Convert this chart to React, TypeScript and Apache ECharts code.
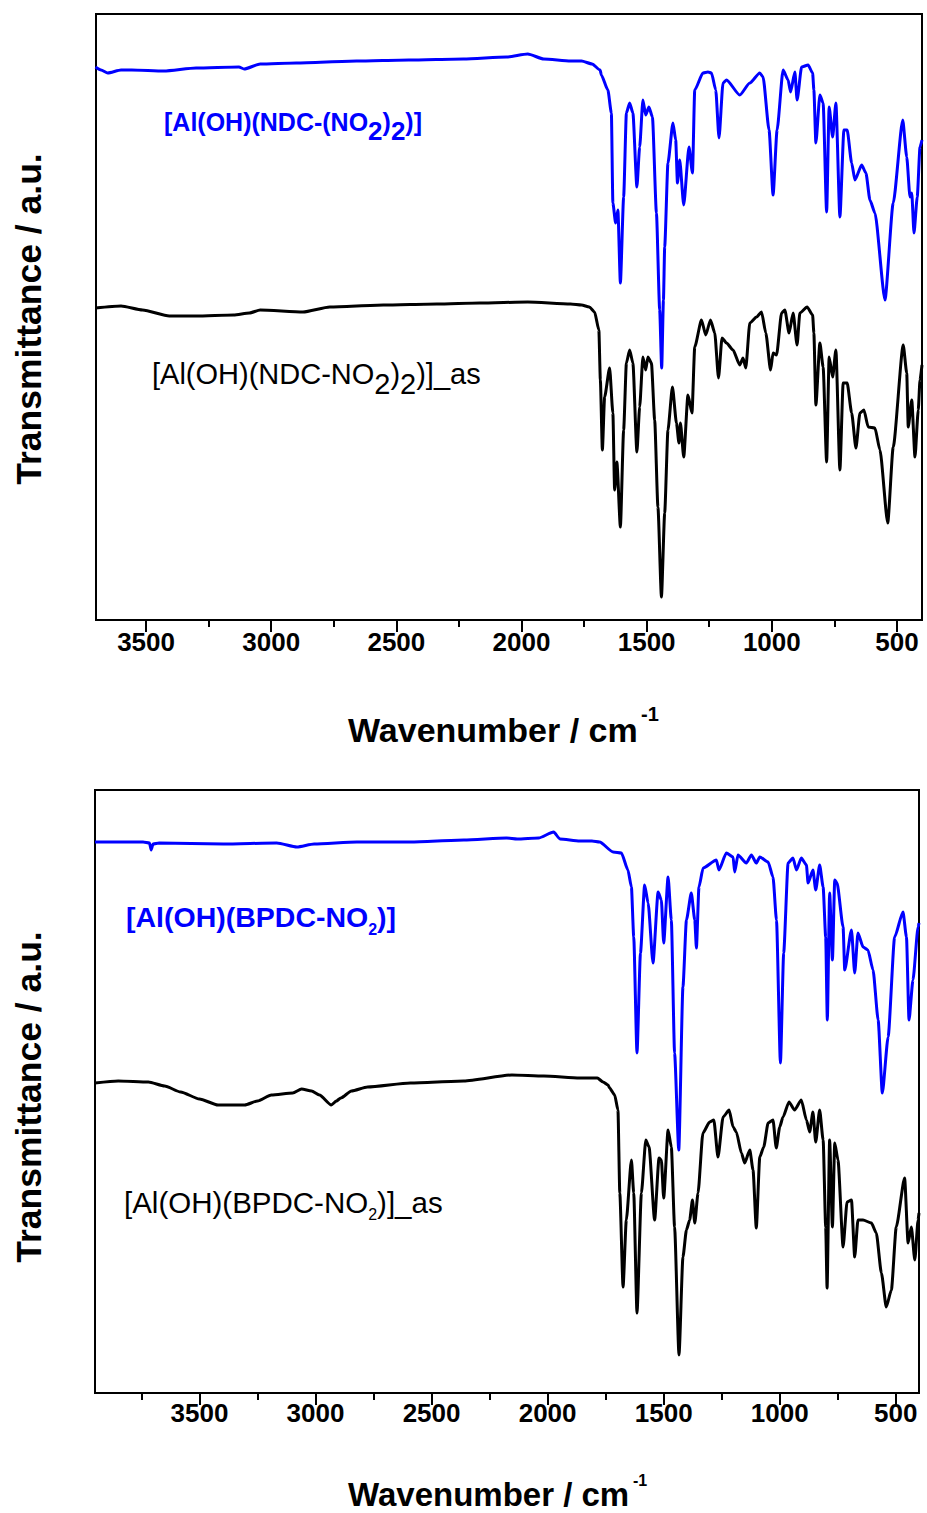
import React, { useEffect, useRef } from "react";
import * as echarts from "echarts";

// ---- Data (wavenumber cm^-1, transmittance a.u.) ----
const topBlue: number[][] = [
  [3702, 553], [3680, 550], [3653, 547], [3600, 550], [3557, 550], [3429, 549], [3300, 552], [3129, 553],
  [3108, 551], [3044, 556], [2900, 557], [2659, 559], [2450, 560], [2232, 561], [2060, 563], [1975, 566],
  [1911, 561], [1804, 559], [1760, 559], [1718, 556], [1686, 550], [1681, 545], [1655, 530], [1641, 507],
  [1635, 417], [1624, 397], [1615, 410], [1605, 337], [1592, 423], [1581, 507], [1568, 517], [1555, 507],
  [1539, 433], [1528, 473], [1515, 520], [1504, 505], [1491, 513], [1477, 503], [1461, 407], [1448, 310],
  [1440, 252], [1433, 320], [1428, 373], [1415, 457], [1395, 497], [1384, 480], [1377, 437], [1368, 460],
  [1352, 415], [1331, 473], [1317, 447], [1308, 530], [1275, 547], [1255, 548], [1241, 547], [1224, 530],
  [1211, 482], [1195, 537], [1181, 540], [1128, 525], [1088, 537], [1048, 547], [1035, 543], [1011, 490],
  [995, 425], [979, 490], [955, 550], [935, 540], [925, 528], [908, 548], [899, 520], [881, 553],
  [855, 555], [837, 547], [832, 530], [824, 477], [808, 525], [795, 517], [781, 408], [771, 513],
  [757, 483], [744, 517], [728, 403], [712, 490], [699, 490], [681, 457], [668, 440], [641, 455],
  [624, 447], [608, 420], [588, 407], [548, 320], [515, 417], [477, 500], [461, 463], [448, 423],
  [441, 427], [432, 387], [419, 423], [408, 473], [400, 480],
];

const topBlack: number[][] = [
  [3702, 312], [3600, 314], [3514, 310], [3407, 304], [3300, 304], [3150, 305], [3087, 307], [3044, 310],
  [2873, 308], [2766, 313], [2552, 315], [2338, 316], [2167, 317], [1975, 318], [1804, 316], [1760, 315],
  [1729, 313], [1708, 308], [1691, 290], [1685, 240], [1677, 170], [1668, 223], [1648, 252], [1635, 207],
  [1628, 130], [1619, 158], [1605, 93], [1592, 190], [1581, 257], [1568, 270], [1555, 257], [1539, 168],
  [1528, 213], [1515, 263], [1504, 250], [1495, 263], [1481, 257], [1468, 200], [1455, 113], [1441, 23],
  [1428, 107], [1415, 190], [1397, 233], [1381, 197], [1371, 177], [1365, 197], [1352, 163], [1335, 225],
  [1319, 207], [1308, 273], [1281, 300], [1264, 285], [1245, 300], [1228, 287], [1213, 242], [1199, 282],
  [1181, 277], [1155, 270], [1128, 255], [1115, 262], [1104, 252], [1088, 297], [1061, 303], [1041, 308],
  [1024, 287], [1005, 250], [995, 267], [981, 265], [961, 307], [948, 310], [931, 287], [915, 307],
  [899, 275], [888, 307], [859, 313], [837, 305], [832, 287], [824, 215], [808, 277], [795, 253],
  [781, 158], [771, 263], [757, 243], [744, 270], [728, 150], [715, 237], [699, 237], [681, 207],
  [664, 172], [648, 207], [632, 210], [615, 193], [588, 192], [568, 170], [537, 97], [515, 173],
  [475, 275], [461, 247], [455, 193], [441, 220], [428, 163], [415, 210], [408, 240], [400, 255],
];

const bottomBlue: number[][] = [
  [3950, 551], [3800, 551], [3743, 551], [3715, 550], [3708, 543], [3700, 549], [3674, 550], [3397, 549],
  [3167, 550], [3080, 546], [3006, 549], [2822, 551], [2591, 551], [2361, 553], [2177, 555], [2131, 554],
  [2039, 555], [1974, 561], [1947, 554], [1862, 552], [1809, 552], [1776, 551], [1718, 541], [1682, 540],
  [1654, 523], [1639, 506], [1629, 456], [1615, 340], [1600, 440], [1582, 508], [1567, 490], [1546, 430],
  [1524, 501], [1510, 493], [1500, 450], [1481, 516], [1467, 473], [1453, 340], [1435, 243], [1417, 406],
  [1402, 473], [1381, 500], [1366, 473], [1359, 445], [1348, 506], [1330, 525], [1273, 533], [1262, 523],
  [1230, 540], [1201, 536], [1194, 521], [1180, 538], [1144, 530], [1122, 538], [1101, 530], [1086, 536],
  [1050, 531], [1029, 516], [1014, 473], [997, 330], [983, 440], [964, 530], [943, 535], [928, 523],
  [907, 535], [885, 528], [878, 510], [857, 523], [845, 503], [828, 528], [813, 506], [802, 456],
  [795, 373], [785, 500], [773, 433], [763, 513], [753, 510], [727, 466], [720, 423], [691, 463],
  [677, 420], [663, 460], [641, 446], [620, 443], [598, 423], [576, 373], [558, 300], [533, 356],
  [505, 456], [469, 481], [454, 456], [443, 373], [426, 413], [404, 466], [400, 470],
];

const bottomBlack: number[][] = [
  [3950, 310], [3850, 312], [3720, 311], [3650, 307], [3581, 301], [3500, 294], [3420, 288], [3305, 288],
  [3250, 292], [3190, 298], [3098, 300], [3060, 304], [3017, 302], [2983, 298], [2932, 288], [2910, 292],
  [2891, 295], [2845, 302], [2776, 306], [2591, 310], [2361, 312], [2154, 318], [2016, 317], [1862, 315],
  [1786, 315], [1761, 311], [1740, 308], [1733, 305], [1711, 298], [1697, 283], [1689, 200], [1675, 106],
  [1661, 173], [1639, 233], [1629, 200], [1615, 80], [1596, 200], [1577, 253], [1563, 246], [1539, 173],
  [1520, 235], [1510, 233], [1500, 195], [1481, 263], [1467, 246], [1453, 166], [1434, 38], [1417, 136],
  [1402, 163], [1388, 173], [1376, 193], [1366, 170], [1352, 200], [1331, 260], [1302, 271], [1284, 273],
  [1266, 236], [1244, 276], [1218, 283], [1201, 266], [1187, 261], [1165, 240], [1151, 230], [1129, 243],
  [1115, 223], [1101, 165], [1086, 236], [1069, 246], [1050, 270], [1029, 273], [1015, 245], [1000, 266],
  [986, 276], [960, 291], [936, 283], [907, 293], [885, 273], [871, 261], [857, 281], [845, 251],
  [828, 283], [813, 253], [802, 166], [796, 105], [785, 253], [773, 166], [763, 250], [749, 233],
  [727, 146], [710, 191], [691, 193], [677, 136], [663, 173], [641, 173], [605, 170], [584, 160],
  [562, 120], [541, 86], [519, 103], [498, 166], [462, 215], [447, 150], [433, 166], [418, 133],
  [404, 173], [400, 180],
];

const majorTicks = [500, 1000, 1500, 2000, 2500, 3000, 3500];
const minorTicksTop = [750, 1250, 1750, 2250, 2750, 3250];
const minorTicksBottom = [750, 1250, 1750, 2250, 2750, 3250, 3750];

const FONT = "'Liberation Sans', Arial, Helvetica, sans-serif";
const BLUE = "#0000ff";

export default function App() {
  const ref = useRef<HTMLDivElement>(null);

  useEffect(() => {
    if (!ref.current) return;
    const chart = echarts.init(ref.current, undefined, { renderer: "svg" });

    const mainX = (gridIndex: number, min: number, max: number) => ({
      type: "value",
      gridIndex,
      min,
      max,
      inverse: true,
      position: "bottom",
      splitLine: { show: false },
      axisLine: { show: true, lineStyle: { color: "#000", width: 2 } },
      axisTick: {
        show: true,
        length: 12,
        inside: false,
        customValues: majorTicks,
        lineStyle: { color: "#000", width: 2 },
      },
      axisLabel: {
        show: true,
        customValues: majorTicks,
        formatter: (v: number) => String(v),
        fontSize: 26,
        fontWeight: "bold",
        fontFamily: FONT,
        color: "#000",
        margin: gridIndex === 0 ? 9 : 7,
      },
    });
    const minorX = (gridIndex: number, min: number, max: number, vals: number[]) => ({
      type: "value",
      gridIndex,
      min,
      max,
      inverse: true,
      position: "bottom",
      splitLine: { show: false },
      axisLine: { show: false },
      axisTick: {
        show: true,
        length: 7,
        inside: false,
        customValues: vals,
        lineStyle: { color: "#000", width: 2 },
      },
      axisLabel: { show: false },
    });
    const yAx = (gridIndex: number, max: number) => ({
      type: "value",
      gridIndex,
      min: 0,
      max,
      show: false,
    });

    const line = (name: string, data: number[][], color: string, xi: number, yi: number) => ({
      name,
      type: "line",
      data,
      xAxisIndex: xi,
      yAxisIndex: yi,
      showSymbol: false,
      symbol: "none",
      smooth: 0.2,
      smoothMonotone: "x",
      lineStyle: { color, width: 3 },
      clip: true,
    });

    const subRich = (size: number, bold: boolean, color: string, subSize: number, subShift: number) => ({
      a: { fontSize: size, fontWeight: bold ? "bold" : "normal", fontFamily: FONT, fill: color, color },
      s: {
        fontSize: subSize,
        fontWeight: bold ? "bold" : "normal",
        fontFamily: FONT,
        fill: color,
        color,
        padding: [subShift * 2, 0, 0, 0],
      },
    });

    const bold = (size: number) => `bold ${size}px ${FONT}`;

    chart.setOption({
      animation: false,
      backgroundColor: "#ffffff",
      grid: [
        { left: 96, top: 14, width: 826, height: 606, show: true, borderColor: "#000", borderWidth: 2, backgroundColor: "transparent" },
        { left: 95, top: 790, width: 824, height: 603, show: true, borderColor: "#000", borderWidth: 2, backgroundColor: "transparent" },
      ],
      xAxis: [
        mainX(0, 400, 3700),
        minorX(0, 400, 3700, minorTicksTop),
        mainX(1, 400, 3950),
        minorX(1, 400, 3950, minorTicksBottom),
      ],
      yAxis: [yAx(0, 606), yAx(1, 603)],
      series: [
        line("[Al(OH)(NDC-(NO2)2)]", topBlue, BLUE, 0, 0),
        line("[Al(OH)(NDC-NO2)2)]_as", topBlack, "#000", 0, 0),
        line("[Al(OH)(BPDC-NO2)]", bottomBlue, BLUE, 2, 1),
        line("[Al(OH)(BPDC-NO2)]_as", bottomBlack, "#000", 2, 1),
      ],
      graphic: [
        {
          type: "text",
          x: 164,
          y: 122,
          style: {
            text: "{a|[Al(OH)(NDC-(NO}{s|2}{a|)}{s|2}{a|)]}",
            rich: subRich(25, true, BLUE, 26, 9),
            verticalAlign: "middle",
            align: "left",
            fill: BLUE,
          },
        },
        {
          type: "text",
          x: 152,
          y: 374,
          style: {
            text: "{a|[Al(OH)(NDC-NO}{s|2}{a|)}{s|2}{a|)]_as}",
            rich: subRich(29, false, "#000", 29, 10),
            verticalAlign: "middle",
            align: "left",
            fill: "#000",
          },
        },
        {
          type: "text",
          x: 126,
          y: 917,
          style: {
            text: "{a|[Al(OH)(BPDC-NO}{s|2}{a|)]}",
            rich: subRich(28.5, true, BLUE, 16, 12),
            verticalAlign: "middle",
            align: "left",
            fill: BLUE,
          },
        },
        {
          type: "text",
          x: 124,
          y: 1202,
          style: {
            text: "{a|[Al(OH)(BPDC-NO}{s|2}{a|)]_as}",
            rich: subRich(29.5, false, "#000", 16, 12),
            verticalAlign: "middle",
            align: "left",
            fill: "#000",
          },
        },
        {
          type: "text",
          x: 29,
          y: 319,
          rotation: Math.PI / 2,
          style: {
            text: "Transmittance / a.u.",
            font: bold(35.5),
            fill: "#000",
            align: "center",
            verticalAlign: "middle",
          },
        },
        {
          type: "text",
          x: 29,
          y: 1097,
          rotation: Math.PI / 2,
          style: {
            text: "Transmittance / a.u.",
            font: bold(35.5),
            fill: "#000",
            align: "center",
            verticalAlign: "middle",
          },
        },
        {
          type: "text",
          x: 348,
          y: 730,
          style: {
            text: "Wavenumber / cm",
            font: bold(34),
            fill: "#000",
            align: "left",
            verticalAlign: "middle",
          },
        },
        {
          type: "text",
          x: 641,
          y: 714,
          style: {
            text: "-1",
            font: bold(20),
            fill: "#000",
            align: "left",
            verticalAlign: "middle",
          },
        },
        {
          type: "text",
          x: 348,
          y: 1494,
          style: {
            text: "Wavenumber / cm",
            font: bold(33),
            fill: "#000",
            align: "left",
            verticalAlign: "middle",
          },
        },
        {
          type: "text",
          x: 633,
          y: 1480,
          style: {
            text: "-1",
            font: bold(16),
            fill: "#000",
            align: "left",
            verticalAlign: "middle",
          },
        },
      ],
    });

    return () => {
      chart.dispose();
    };
  }, []);

  return (
    <div
      ref={ref}
      style={{ position: "absolute", left: 0, top: 0, width: 927, height: 1513, background: "#fff" }}
    />
  );
}
